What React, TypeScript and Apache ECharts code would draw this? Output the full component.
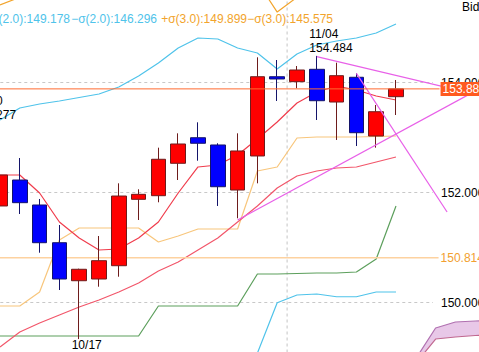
import React, { useEffect, useRef } from "react";
import * as echarts from "echarts";

// ---- candles (index 0 = 10/11 ... index 20 = 11/08) ----
const opens = [151.755, 152.227, 151.773, 151.087, 150.396, 150.427, 150.669, 151.876, 151.942, 152.531, 152.996, 152.864, 152.045, 152.664, 154.105, 154.015, 154.24, 153.645, 154.095, 153.027, 153.742];
const closes = [152.318, 151.815, 151.087, 150.427, 150.604, 150.76, 151.936, 151.967, 152.604, 152.882, 152.895, 152.105, 152.755, 154.105, 154.064, 154.227, 153.669, 154.124, 153.087, 153.469, 153.884];
const lows = [151.682, 151.609, 150.905, 150.227, 149.335, 150.287, 150.469, 151.5, 151.822, 152.227, 152.578, 151.755, 151.531, 152.167, 153.664, 153.895, 153.318, 152.955, 152.845, 152.815, 153.409];
const highs = [152.464, 152.627, 151.882, 151.409, 150.615, 151.209, 152.167, 152.058, 152.815, 153.076, 153.276, 152.895, 153.076, 154.458, 154.409, 154.3, 154.484, 154.36, 154.167, 153.591, 154.045];

// ---- indicator lines ----
const bbUpper3 = [155.41, 155.55, 155.62, 155.66, 155.72, 155.78, 155.85, 155.95, 156.1, 156.3, 156.45, 156.4, 156.2, 155.83, 155.28, 155.55, 155.75, 155.85, 155.9, 155.95, 156.1];
const bbUpper2 = [153.318, 153.536, 153.609, 153.664, 153.727, 153.791, 153.918, 154.118, 154.355, 154.627, 154.809, 154.791, 154.627, 154.536, 154.245, 154.518, 154.682, 154.755, 154.809, 154.9, 155.064];
const bbLower2 = [null, null, null, null, null, null, null, null, null, null, null, null, null, 149.08, 149.996, 150.136, 150.155, 150.105, 150.105, 150.191, 150.191];
const baseLine = [149.936, 149.936, 150.191, 151.136, 151.355, 151.355, 151.355, 151.355, 151.1, 151.209, 151.336, 151.336, 151.336, 152.391, 152.464, 152.991, 153.009, 153.009, 153.009, 153.018, 153.027];
const greenLine = [149.391, 149.391, 149.391, 149.391, 149.391, 149.391, 149.391, 149.391, 149.936, 149.936, 149.936, 149.936, 149.936, 150.518, 150.518, 150.527, 150.536, 150.536, 150.555, 150.791, 151.755];
const maShort = [152.318, 152.318, 151.991, 151.464, 151.173, 150.955, 150.973, 151.173, 151.464, 151.991, 152.464, 152.5, 152.682, 152.973, 153.282, 153.627, 153.827, 153.936, 153.864, 153.755, 153.682];
const maLong = [149.191, 149.464, 149.627, 149.773, 149.918, 150.045, 150.191, 150.355, 150.573, 150.736, 150.955, 151.173, 151.464, 151.755, 152.082, 152.3, 152.391, 152.445, 152.464, 152.555, 152.645];

// ---- cloud (projected ahead) ----
const kumoIdx = [21, 22, 23, 24, 25];
const kumoTop = [148.978, 149.536, 149.645, 149.664, 149.67];
const kumoBottom = [148.891, 149.336, 149.373, 149.4, 149.41];

// ---- trend lines [idx, price] ----
const trendA = [[16, 154.47], [25, 153.7]];
const trendB = [[12, 151.5], [25, 154.04]];
const trendC = [[18, 154.167], [22.58, 151.645]];

// ---- reference prices / tick labels ----
const yTickValues = [150, 152, 154];
const lastPrice = 153.884;
const levelPrice = 150.814;
const separatorIdx = 14.5;

// ---- annotations ----
const highMarks = [
  { date: "10/10", idx: -1, price: 153.277 },
  { date: "11/04", idx: 16, price: 154.484 },
];
const lowMarks = [{ date: "10/17", idx: 4, price: 149.335 }];

// ---- legend ----
const legendLabels = ["+σ(2.0)", "−σ(2.0)", "+σ(3.0)", "−σ(3.0)"];
const legendValues = [149.178, 146.296, 149.899, 145.575];

const FONT = '"Liberation Sans", Arial, sans-serif';
const CYAN = "#4fc3ea";
const ORANGE = "#f2a42c";

// layout constants (index / axis space)
const X_MIN = -1.5;
const X_MAX = 25;
const Y_MIN = 148;
const Y_MAX = 156;
const GRID_END_IDX = 21.87;
const PRICE_LINE_END_IDX = 22.2;

export default function App() {
  const ref = useRef<HTMLDivElement>(null);
  useEffect(() => {
    const el = ref.current as HTMLDivElement;
    const chart = echarts.init(el, undefined, { renderer: "svg" });
    const xy = (arr: (number | null)[]) => arr.map((v, i) => [i, v]);
    const line = (name: string, data: any[], color: string, width = 1.2, extra: any = {}) => ({
      name,
      type: "line",
      data,
      symbol: "none",
      showSymbol: false,
      silent: true,
      lineStyle: { color, width },
      z: 2,
      ...extra,
    });

    const legendRightX = [70, 157, 247, 333];
    const legendColors = [CYAN, CYAN, ORANGE, ORANGE];

    const option: any = {
      animation: false,
      textStyle: { fontFamily: FONT },
      grid: {
        left: -29.7,
        right: -16,
        top: -27.5,
        bottom: -60.5,
        containLabel: false,
        outerBoundsMode: "none",
      },
      xAxis: {
        type: "value",
        min: X_MIN,
        max: X_MAX,
        show: false,
        splitLine: { show: false },
      },
      yAxis: {
        type: "value",
        position: "right",
        offset: -56,
        min: Y_MIN,
        max: Y_MAX,
        interval: 2,
        axisLine: { show: false },
        axisTick: { show: false },
        axisLabel: {
          color: "#000",
          fontSize: 12,
          fontFamily: FONT,
          margin: 2,
          formatter: (v: number) => (yTickValues.indexOf(v) >= 0 ? v.toFixed(3) : ""),
        },
        splitLine: { show: false },
      },
      graphic: [
        ...legendLabels.map((lab, i) => ({
          type: "text",
          x: legendRightX[i],
          y: 19,
          silent: true,
          style: {
            text: lab + ":" + legendValues[i].toFixed(3),
            fill: legendColors[i],
            font: "12px " + FONT,
            align: "right",
            verticalAlign: "middle",
            textAlign: "right",
            textVerticalAlign: "middle",
          },
        })),
        {
          type: "text",
          x: 462,
          y: 7,
          silent: true,
          style: {
            text: "Bid",
            fill: "#000",
            font: "12px " + FONT,
            align: "left",
            verticalAlign: "middle",
            textAlign: "left",
            textVerticalAlign: "middle",
          },
        },
      ],
      series: [
        ...yTickValues.map((v, i) =>
          line("grid" + i, [[X_MIN, v], [GRID_END_IDX, v]], "#c8c8c8", 1, {
            z: 1,
            lineStyle: { color: "#c8c8c8", width: 1, type: [3, 3] },
          })
        ),
        line("separator", [[separatorIdx, Y_MIN], [separatorIdx, Y_MAX]], "#c4c4c4", 1, {
          z: 1,
          lineStyle: { color: "#c4c4c4", width: 1, type: [3, 3] },
        }),
        line("+σ3", xy(bbUpper3), ORANGE, 1.2),
        line("+σ2", xy(bbUpper2), CYAN, 1.2),
        line("−σ2", xy(bbLower2), CYAN, 1.2),
        line("base", xy(baseLine), "#f8c67c", 1.2),
        line("green", xy(greenLine), "#5c9f5c", 1.2),
        line("maLong", xy(maLong), "#f2566a", 1.2),
        line("maShort", xy(maShort), "#f03c4c", 1.2),
        line(
          "kumoTop",
          kumoIdx.map((x, i) => [x, kumoTop[i]]),
          "#b070b0",
          1.2,
          { areaStyle: { color: "#e8c8e8", opacity: 1, origin: "start" } }
        ),
        line(
          "kumoBottom",
          kumoIdx.map((x, i) => [x, kumoBottom[i]]),
          "#c06890",
          1.2,
          { areaStyle: { color: "#ffffff", opacity: 1, origin: "start" } }
        ),
        line("level", [[X_MIN, levelPrice], [PRICE_LINE_END_IDX - 0.05, levelPrice]], "#fdd2a0", 1.3, {
          z: 2,
          endLabel: {
            show: true,
            distance: 2,
            formatter: levelPrice.toFixed(3),
            color: "#f2a030",
            fontSize: 12,
            fontFamily: FONT,
          },
        }),
        line("trendB", trendB, "#e860e8", 1.2, { z: 4 }),
        line("trendC", trendC, "#e860e8", 1.2, { z: 4 }),
        line("trendA", trendA, "#e860e8", 1.2, { z: 4 }),
        line("last", [[X_MIN, lastPrice], [PRICE_LINE_END_IDX, lastPrice]], "#ff6a30", 1, {
          z: 6,
          endLabel: {
            show: true,
            distance: 1,
            formatter: lastPrice.toFixed(3),
            color: "#ffffff",
            backgroundColor: "#ff5a1f",
            padding: [1, 2, 1, 2],
            fontSize: 12,
            fontFamily: FONT,
          },
        }),
        {
          name: "Bid",
          type: "candlestick",
          z: 3,
          barWidth: 15,
          silent: true,
          data: opens.map((o, i) => [i, o, closes[i], lows[i], highs[i]]),
          itemStyle: {
            color: "#ff0000",
            color0: "#0000ff",
            borderColor: "#6e1c1c",
            borderColor0: "#14146a",
            borderWidth: 1,
          },
          markPoint: {
            symbol: "circle",
            symbolSize: 1,
            silent: true,
            animation: false,
            itemStyle: { color: "rgba(0,0,0,0)" },
            label: {
              show: true,
              formatter: "{b}",
              color: "#000",
              fontSize: 12,
              fontFamily: FONT,
              lineHeight: 14,
              align: "left",
              verticalAlign: "top",
            },
            data: [
              ...highMarks.map((m) => ({
                name: m.date + "\n" + m.price.toFixed(3),
                coord: [m.idx, m.price],
                label: { position: [-7, -28] },
              })),
              ...lowMarks.map((m) => ({
                name: m.date + "\n" + m.price.toFixed(3),
                coord: [m.idx, m.price],
                label: { position: [-7, -1] },
              })),
            ],
          },
        },
      ],
    };
    chart.setOption(option);
    return () => chart.dispose();
  }, []);
  return (
    <div
      ref={ref}
      style={{ position: "absolute", left: 0, top: 0, width: 479, height: 352, background: "#fff" }}
    />
  );
}
